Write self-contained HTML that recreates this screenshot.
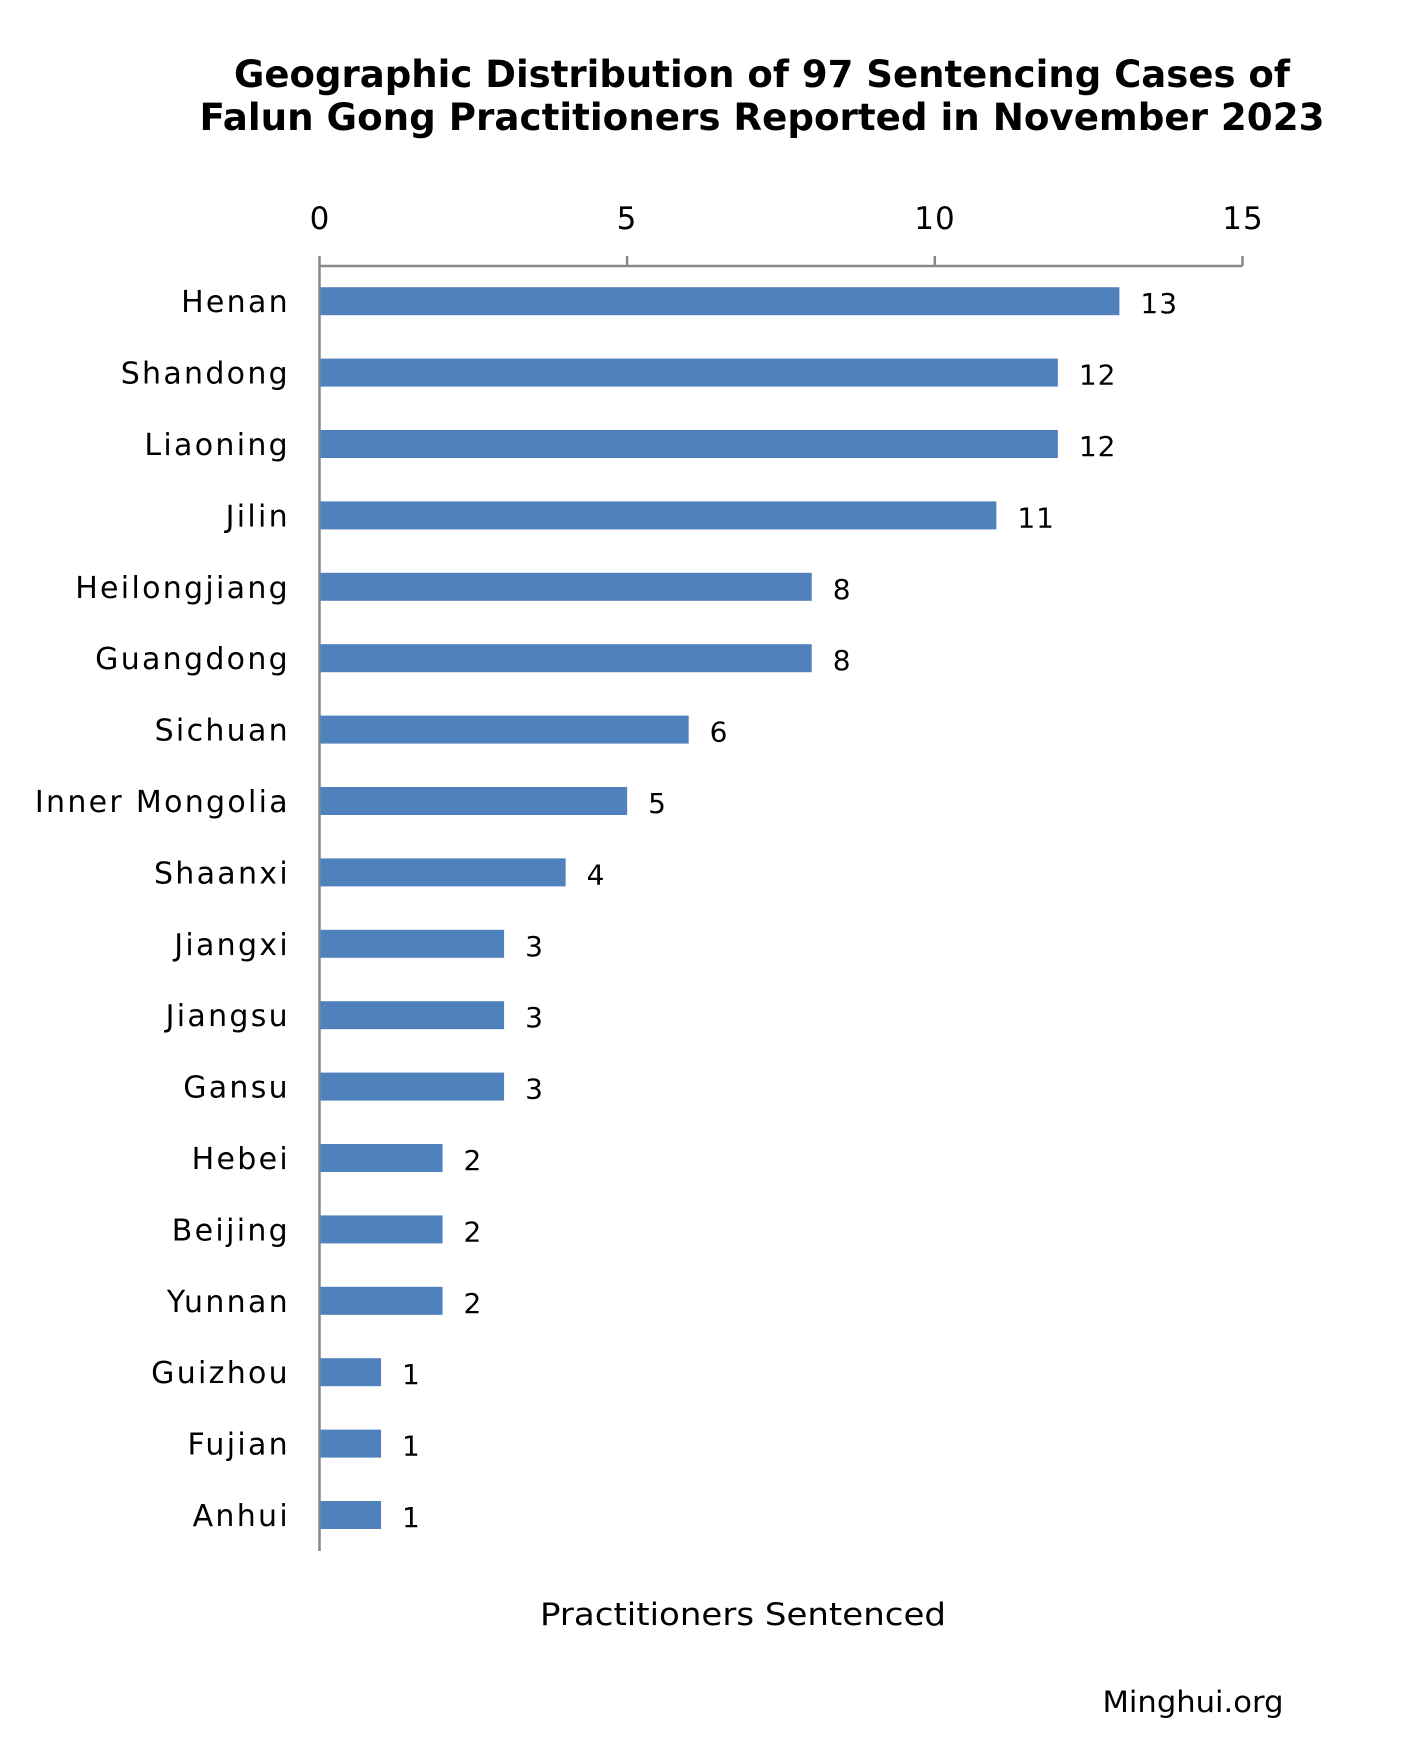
<!DOCTYPE html>
<html><head><meta charset="utf-8"><style>html,body{margin:0;padding:0;background:#fff}svg{display:block}</style></head>
<body>
<svg width="1404" height="1754" xmlns="http://www.w3.org/2000/svg" font-family="DejaVu Sans, Liberation Sans, sans-serif">
<rect width="1404" height="1754" fill="#fff"/>
<text x="762" y="87" font-size="37" font-weight="bold" text-anchor="middle" textLength="1056" lengthAdjust="spacingAndGlyphs">Geographic Distribution of 97 Sentencing Cases of</text>
<text x="762" y="130" font-size="37" font-weight="bold" text-anchor="middle" textLength="1125" lengthAdjust="spacingAndGlyphs">Falun Gong Practitioners Reported in November 2023</text>
<g stroke="#888" stroke-width="2.5" fill="none">
<line x1="319.5" y1="266" x2="1242.5" y2="266"/>
<line x1="319.5" y1="256" x2="319.5" y2="1551"/>
<line x1="627.1" y1="256" x2="627.1" y2="266"/>
<line x1="934.8" y1="256" x2="934.8" y2="266"/>
<line x1="1242.5" y1="256" x2="1242.5" y2="266"/>
</g>
<g font-size="31" text-anchor="middle" fill="#000" letter-spacing="1">
<text x="320" y="229">0</text><text x="627" y="229">5</text><text x="935" y="229">10</text><text x="1243" y="229">15</text>
</g>
<g fill="#4f81bd" id="bars"></g>
<g font-size="30" fill="#000" id="lbl"></g>
<text x="743" y="1645" font-size="31" text-anchor="middle" textLength="406" lengthAdjust="spacingAndGlyphs" transform="translate(0,-20)">Practitioners Sentenced</text>
<text x="1193" y="1712" font-size="29" text-anchor="middle" textLength="181" lengthAdjust="spacingAndGlyphs">Minghui.org</text>
<script>
var d=[["Henan",13],["Shandong",12],["Liaoning",12],["Jilin",11],["Heilongjiang",8],["Guangdong",8],["Sichuan",6],["Inner Mongolia",5],["Shaanxi",4],["Jiangxi",3],["Jiangsu",3],["Gansu",3],["Hebei",2],["Beijing",2],["Yunnan",2],["Guizhou",1],["Fujian",1],["Anhui",1]];
var ns="http://www.w3.org/2000/svg",b=document.getElementById("bars"),l=document.getElementById("lbl");
d.forEach(function(r,i){var c=301.2+i*71.4,w=r[1]*61.53;
var e=document.createElementNS(ns,"rect");e.setAttribute("x",320.5);e.setAttribute("y",c-14);e.setAttribute("width",w-1);e.setAttribute("height",28);b.appendChild(e);
var t=document.createElementNS(ns,"text");t.setAttribute("x",290);t.setAttribute("y",c+11);t.setAttribute("text-anchor","end");t.setAttribute("letter-spacing","2.3");t.textContent=r[0];l.appendChild(t);
var v=document.createElementNS(ns,"text");v.setAttribute("x",319.5+w+21);v.setAttribute("y",c+12);v.setAttribute("font-size","28");v.setAttribute("letter-spacing","1");v.textContent=r[1];l.appendChild(v);});
</script>
</svg>
</body></html>
